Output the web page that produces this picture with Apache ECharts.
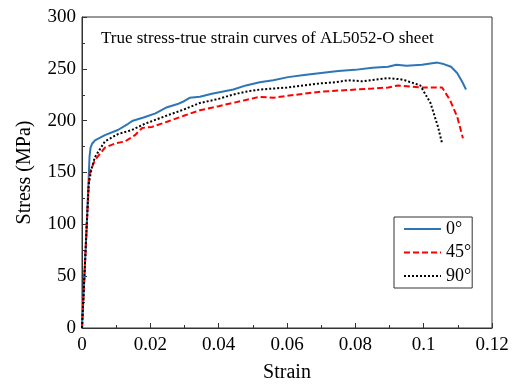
<!DOCTYPE html>
<html>
<head>
    <meta charset="utf-8">
    <script src="https://cdn.jsdelivr.net/npm/echarts@6/dist/echarts.min.js"></script>
    <style>
        body { margin: 0; }
        #chart {
            width: 515px;
            height: 385px;
        }
    </style>
</head>
<body>
    <div id="chart"></div>
    <script>

        // strain, stress (MPa)
        let deg0 = [
            [0, 0], [0.0007, 50], [0.0014, 100], [0.0019, 140], [0.0022, 165], [0.0025, 174],
            [0.003, 178], [0.0038, 181], [0.0067, 186], [0.0105, 191], [0.0135, 197], [0.0149, 200],
            [0.018, 203], [0.0215, 207], [0.0249, 213], [0.028, 216], [0.03, 219], [0.0315, 222],
            [0.0345, 223], [0.038, 226], [0.0443, 230], [0.048, 234], [0.052, 237], [0.056, 239],
            [0.0603, 242], [0.065, 244], [0.07, 246], [0.075, 248], [0.0799, 249], [0.085, 251],
            [0.0896, 252], [0.092, 254], [0.095, 253], [0.0995, 254], [0.104, 256], [0.1055, 255],
            [0.108, 252], [0.1098, 246], [0.1112, 238], [0.1124, 230]
        ];
        let deg45 = [
            [0, 0], [0.0007, 50], [0.0014, 100], [0.0019, 135], [0.0023, 150], [0.0038, 162],
            [0.0067, 174], [0.0097, 178], [0.0126, 180], [0.0155, 186], [0.0176, 193], [0.0205, 194],
            [0.0249, 199], [0.03, 205], [0.0345, 210], [0.04, 214], [0.044, 217], [0.048, 220],
            [0.052, 223], [0.056, 222], [0.06, 224], [0.065, 226], [0.07, 228], [0.075, 229],
            [0.08, 230], [0.085, 231], [0.0896, 232], [0.0925, 234], [0.0995, 232], [0.1054, 232],
            [0.1077, 220], [0.1098, 204], [0.1115, 183]
        ];
        let deg90 = [
            [0, 0], [0.0007, 50], [0.0014, 100], [0.002, 140], [0.0029, 155], [0.0038, 165],
            [0.0067, 180], [0.0105, 187], [0.0146, 191], [0.0184, 197], [0.0249, 205], [0.03, 211],
            [0.0345, 217], [0.04, 221], [0.044, 225], [0.048, 228], [0.052, 230], [0.056, 231],
            [0.06, 232], [0.065, 234], [0.07, 236], [0.074, 237], [0.078, 239], [0.082, 238],
            [0.0896, 241], [0.093, 240], [0.0945, 239], [0.099, 234], [0.102, 217], [0.1042, 194],
            [0.1054, 178]
        ];
        let seriesNames = ['0°', '45°', '90°'];

        var chart = echarts.init(document.getElementById('chart'), null, { renderer: 'canvas' });
        var serif = 'Liberation Serif';
        var option = {
            animation: false,
            textStyle: { fontFamily: serif, color: '#000' },
            title: {
                text: 'True stress-true strain curves of AL5052-O sheet',
                left: 96,
                top: 25,
                textStyle: { fontFamily: serif, fontSize: 17, fontWeight: 'normal', color: '#000' }
            },
            legend: {
                data: seriesNames,
                orient: 'vertical',
                left: 394,
                top: 217,
                padding: [3, 1, 3, 9],
                itemWidth: 37,
                itemHeight: 14,
                itemGap: 5.5,
                borderColor: '#333',
                borderWidth: 1,
                itemStyle: { opacity: 0 },
                textStyle: { fontFamily: serif, fontSize: 18, color: '#000' }
            },
            grid: {
                left: 82,
                top: 17,
                right: 23,
                bottom: 57,
                outerBoundsMode: 'none',
                containLabel: false,
                show: true,
                borderColor: '#333',
                borderWidth: 1
            },
            xAxis: {
                type: 'value',
                min: 0,
                max: 0.12,
                interval: 0.02,
                name: 'Strain',
                nameLocation: 'middle',
                nameGap: 35,
                nameTextStyle: { fontFamily: serif, fontSize: 20, color: '#000' },
                axisLine: { lineStyle: { color: '#333' } },
                axisTick: { inside: true, length: 5, lineStyle: { color: '#333' } },
                minorTick: { show: true, splitNumber: 2, length: 3, lineStyle: { color: '#333' } },
                axisLabel: { fontFamily: serif, fontSize: 19, color: '#000', margin: 8 },
                splitLine: { show: false }
            },
            yAxis: {
                type: 'value',
                min: 0,
                max: 300,
                interval: 50,
                name: 'Stress (MPa)',
                nameLocation: 'middle',
                nameGap: 47,
                nameTextStyle: { fontFamily: serif, fontSize: 20, color: '#000' },
                axisLine: { lineStyle: { color: '#333' } },
                axisTick: { inside: true, length: 5, lineStyle: { color: '#333' } },
                minorTick: { show: true, splitNumber: 2, length: 3, lineStyle: { color: '#333' } },
                axisLabel: { fontFamily: serif, fontSize: 19, color: '#000', margin: 6 },
                splitLine: { show: false }
            },
            series: [
                {
                    name: seriesNames[0],
                    type: 'line',
                    data: deg0,
                    showSymbol: false,
                    symbol: 'none',
                    lineStyle: { color: '#2e75b6', width: 2 },
                    itemStyle: { color: '#2e75b6' }
                },
                {
                    name: seriesNames[1],
                    type: 'line',
                    data: deg45,
                    showSymbol: false,
                    symbol: 'none',
                    lineStyle: { color: '#ff0000', width: 2, type: [6, 3] },
                    itemStyle: { color: '#ff0000' }
                },
                {
                    name: seriesNames[2],
                    type: 'line',
                    data: deg90,
                    showSymbol: false,
                    symbol: 'none',
                    lineStyle: { color: '#000', width: 2, type: [2, 2] },
                    itemStyle: { color: '#000' }
                }
            ]
        };
        chart.setOption(option);
    </script>
</body>
</html>
